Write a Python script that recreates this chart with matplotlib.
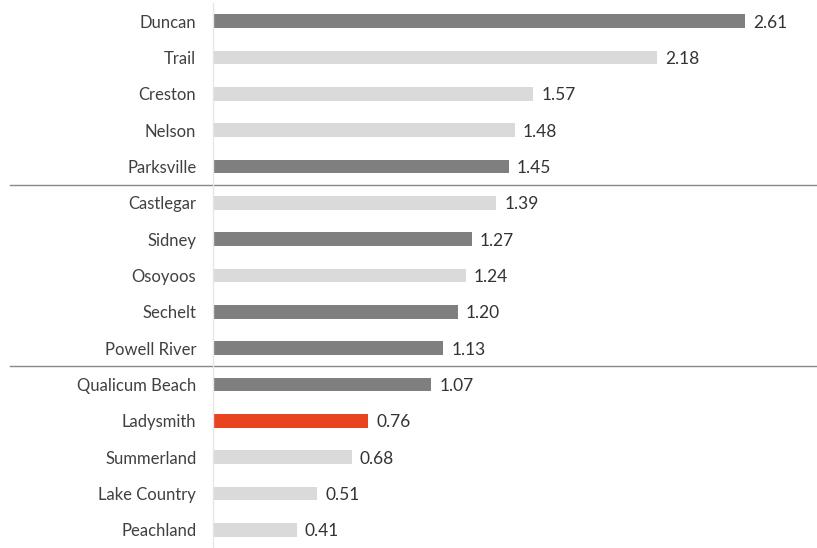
import matplotlib
matplotlib.use("Agg")
import matplotlib.pyplot as plt
import matplotlib.transforms as mtransforms

cities = ["Duncan", "Trail", "Creston", "Nelson", "Parksville", "Castlegar", "Sidney",
          "Osoyoos", "Sechelt", "Powell River", "Qualicum Beach", "Ladysmith",
          "Summerland", "Lake Country", "Peachland"]
values = [2.61, 2.18, 1.57, 1.48, 1.45, 1.39, 1.27, 1.24, 1.20, 1.13, 1.07, 0.76, 0.68, 0.51, 0.41]
groups = ["dark", "light", "light", "light", "dark", "light", "dark", "light", "dark", "dark",
          "dark", "highlight", "light", "light", "light"]
separators_after = [4, 9]

palette = {"dark": "#7f7f7f", "light": "#dadada", "highlight": "#e8441f"}

plt.rcParams['font.family'] = ['Lato', 'DejaVu Sans']

fig = plt.figure(figsize=(8.17, 5.48), dpi=100)
ax = fig.add_axes([213/817, 0.0, 604/817, 1 - 3/548])

y = list(range(len(cities)))
colors = [palette[g] for g in groups]
ax.barh(y, values, height=0.38, color=colors)
ax.set_ylim(len(cities) - 0.5, -0.5)
ax.set_xlim(0, 2.61 * 604 / 532)

for yi, v in zip(y, values):
    ax.text(v + 0.04, yi + 0.04, f"{v:.2f}", va="center", ha="left", fontsize=12.5, color="#333333")

ax.set_yticks(y)
ax.set_yticklabels(cities, fontsize=12, color="#404040")
ax.tick_params(axis="y", length=0, pad=12)
ax.set_xticks([])
for s in ["top", "right", "bottom"]:
    ax.spines[s].set_visible(False)
ax.spines["left"].set_color("#e6e6e6")
ax.spines["left"].set_linewidth(1)

trans = mtransforms.blended_transform_factory(ax.transAxes, ax.transData)
for idx in separators_after:
    yy = idx + 0.5
    ax.plot([(10 - 213) / 604, 1.0], [yy, yy], transform=trans, color="#888888",
            linewidth=1, clip_on=False)

fig.savefig("out.png", dpi=100)
